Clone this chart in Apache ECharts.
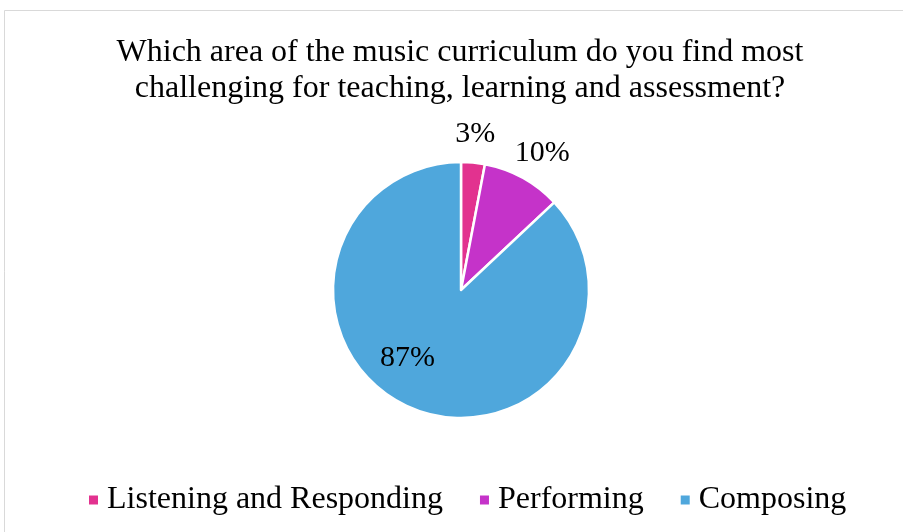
<!DOCTYPE html>
<html>
<head>
<meta charset="utf-8">
<style>
  html, body { margin: 0; padding: 0; background: #fff; }
  #chart { width: 903px; height: 532px; }
</style>
<script src="https://cdn.jsdelivr.net/npm/echarts@6/dist/echarts.min.js"></script>
</head>
<body>
<div id="chart"></div>
<script>
// Survey responses (percent of respondents)
const categories = ['Listening and Responding', 'Performing', 'Composing'];
const percentages = [3, 10, 87];
const sliceColors = ['#E2328F', '#C533C9', '#4FA7DC'];
const titleText = 'Which area of the music curriculum do you find most\nchallenging for teaching, learning and assessment?';

// Per-slice label nudges away from the default inner anchor
const labelOffsets = [[8, -89], [49, -78], [-27, 7]];

const serif = '"Liberation Serif", "Times New Roman", serif';

const chart = echarts.init(document.getElementById('chart'), null, { renderer: 'canvas' });

chart.setOption({
  animation: false,
  backgroundColor: '#ffffff',
  graphic: [{
    type: 'rect',
    shape: { x: 4.5, y: 10.5, width: 1000, height: 1000 },
    style: { fill: 'none', stroke: '#d9d9d9', lineWidth: 1 },
    silent: true
  }],
  title: {
    text: titleText,
    left: 455,
    textAlign: 'center',
    top: 30,
    textStyle: {
      fontFamily: serif,
      fontSize: 32,
      fontWeight: 'normal',
      color: '#000',
      lineHeight: 36
    }
  },
  legend: {
    data: categories,
    bottom: 11,
    left: 82,
    icon: 'rect',
    itemWidth: 11,
    itemHeight: 11,
    itemGap: 35,
    textStyle: {
      fontFamily: serif,
      fontSize: 32,
      color: '#000',
      padding: [0, 0, 0, 3]
    }
  },
  series: [{
    type: 'pie',
    center: [461, 290],
    radius: [0, 128],
    startAngle: 90,
    clockwise: true,
    avoidLabelOverlap: false,
    itemStyle: { borderColor: '#ffffff', borderWidth: 2.5 },
    labelLine: { show: false },
    emphasis: { disabled: true },
    data: categories.map((name, i) => ({
      name: name,
      value: percentages[i],
      itemStyle: { color: sliceColors[i] },
      label: {
        show: true,
        position: 'inside',
        formatter: percentages[i] + '%',
        fontFamily: serif,
        fontSize: 30,
        color: '#000',
        offset: labelOffsets[i]
      }
    }))
  }]
});
</script>
</body>
</html>
